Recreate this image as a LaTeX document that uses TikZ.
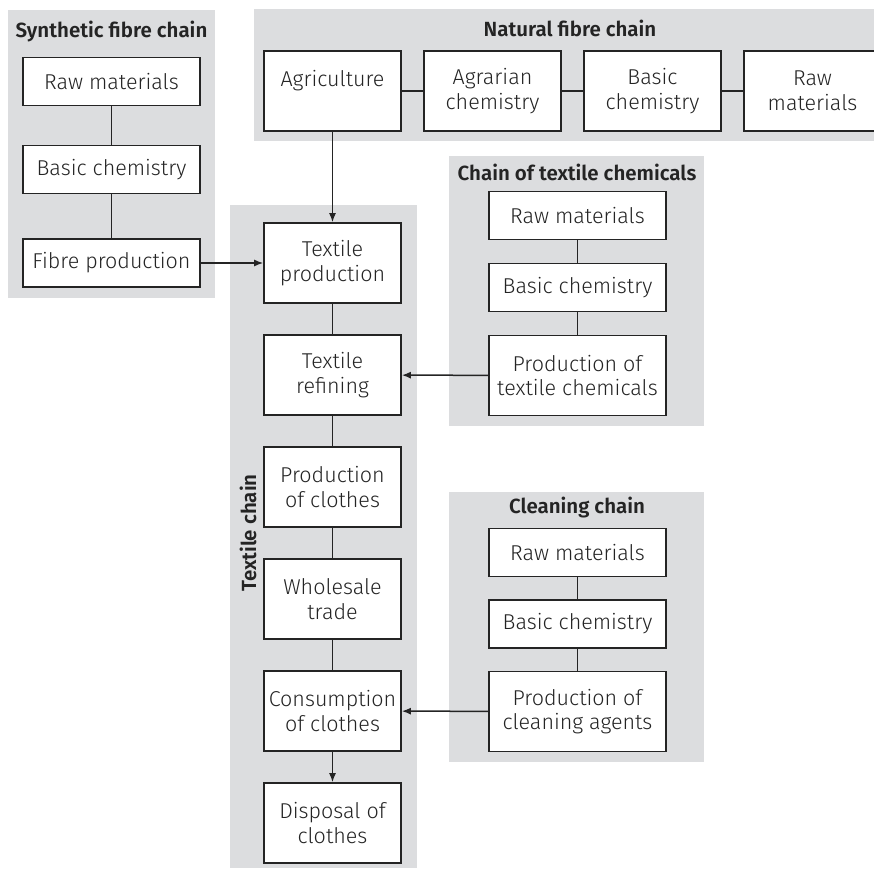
\documentclass[tikz,border=0pt]{standalone}
\usepackage{fontspec}
\IfFontExistsTF{Fira Sans Light}
  {\setmainfont{Fira Sans Light}[BoldFont={Fira Sans SemiBold}]}
  {\setmainfont{Fira Sans}}
\usetikzlibrary{arrows.meta}
\definecolor{panelgrey}{HTML}{DCDDDF}
\definecolor{ink}{HTML}{242424}
\begin{document}
\begin{tikzpicture}[x=1pt,y=-1pt,
  panel/.style={fill=panelgrey, draw=none},
  stage/.style={draw=ink, line width=1.6pt, fill=white, align=center,
    inner sep=0pt, text=ink, font=\fontsize{21.5}{24.5}\selectfont},
  wideflat/.style={stage, minimum width=177pt, minimum height=48pt},
  widetall/.style={stage, minimum width=177pt, minimum height=80pt},
  narrow/.style={stage, minimum width=137pt, minimum height=80pt},
  chaintitle/.style={text=ink, font=\fontsize{20.5}{24}\selectfont\bfseries, inner sep=0pt},
  link/.style={draw=ink, line width=1.5pt},
  flow/.style={link, -{Latex[length=9pt,width=7pt]}}]
\useasboundingbox (0,0) rectangle (874,869);
\clip (0,0) rectangle (874,869);

% grey backgrounds of the five chains
\fill[panel] (8,10) rectangle (215,298);
\fill[panel] (254,9) rectangle (880,141);
\fill[panel] (230,205) rectangle (417,868);
\fill[panel] (449,156) rectangle (704,426);
\fill[panel] (449,492) rectangle (704,762);

% chain titles
\node[chaintitle] (tsyn) at (111.5,32) {Synthetic fibre chain};
\node[chaintitle] (tnat) at (570,28) {Natural fibre chain};
\node[chaintitle] (tchem) at (577,172) {Chain of textile chemicals};
\node[chaintitle] (tclean) at (577,508) {Cleaning chain};
\node[chaintitle, rotate=90] (ttex) at (248,533) {Textile chain};

% synthetic fibre chain
\node[wideflat] (s1) at (111.5,81.5) {Raw materials};
\node[wideflat] (s2) at (111.5,169.5) {Basic chemistry};
\node[wideflat] (s3) at (111.5,263) {Fibre production};

% natural fibre chain
\node[narrow] (n1) at (332.5,91) {Agriculture\\\mbox{}};
\node[narrow] (n2) at (492.5,91) {Agrarian\\chemistry};
\node[narrow] (n3) at (652.5,91) {Basic\\chemistry};
\node[narrow] (n4) at (812.5,91) {Raw\\materials};

% textile chain
\node[narrow] (t1) at (332.5,263) {Textile\\production};
\node[narrow] (t2) at (332.5,375) {Textile\\refining};
\node[narrow] (t3) at (332.5,487) {Production\\of clothes};
\node[narrow] (t4) at (332.5,599) {Wholesale\\trade};
\node[narrow] (t5) at (332.5,711) {Consumption\\of clothes};
\node[narrow] (t6) at (332.5,823) {Disposal of\\clothes};

% chain of textile chemicals
\node[wideflat] (c1) at (577.5,215.5) {Raw materials};
\node[wideflat] (c2) at (577.5,287.5) {Basic chemistry};
\node[widetall] (c3) at (577.5,375.5) {Production of\\textile chemicals};

% cleaning chain
\node[wideflat] (k1) at (577.5,552.5) {Raw materials};
\node[wideflat] (k2) at (577.5,624) {Basic chemistry};
\node[widetall] (k3) at (577.5,711.5) {Production of\\cleaning agents};

% plain links inside the chains
\draw[link] (s1) -- (s2);
\draw[link] (s2) -- (s3);
\draw[link] (n1) -- (n2);
\draw[link] (n2) -- (n3);
\draw[link] (n3) -- (n4);
\draw[link] (t1) -- (t2);
\draw[link] (t2) -- (t3);
\draw[link] (t3) -- (t4);
\draw[link] (t4) -- (t5);
\draw[link] (c1) -- (c2);
\draw[link] (c2) -- (c3);
\draw[link] (k1) -- (k2);
\draw[link] (k2) -- (k3);

% flows between the chains
\draw[flow] (n1) -- (t1);
\draw[flow] (s3) -- (t1);
\draw[flow] (c3) -- (t2);
\draw[flow] (k3) -- (t5);
\draw[flow] (t5) -- (t6);
\end{tikzpicture}
\end{document}
